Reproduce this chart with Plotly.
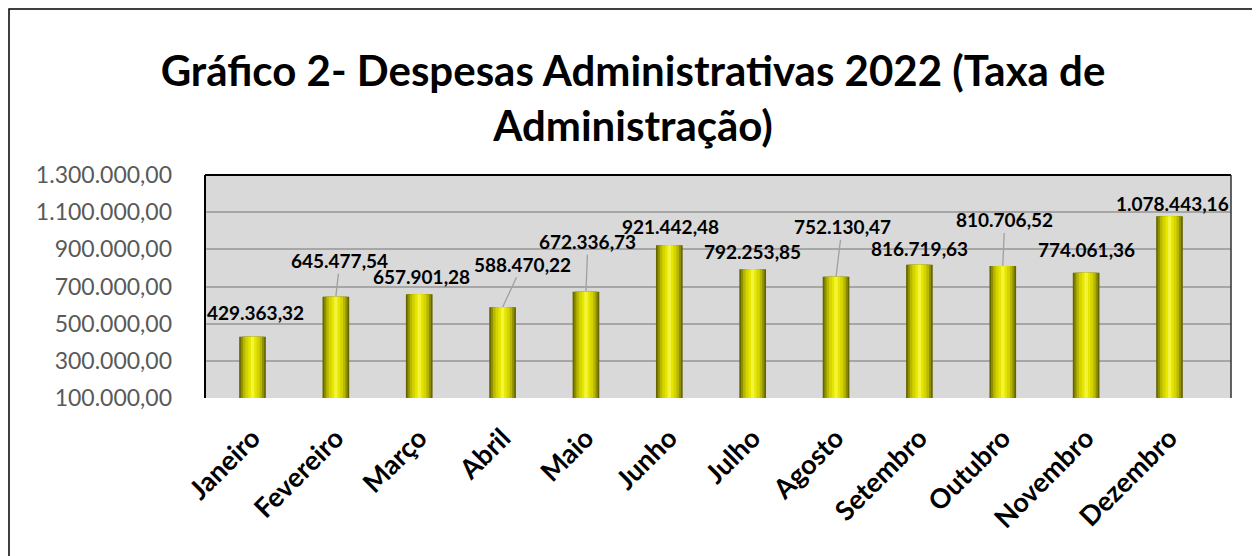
import plotly.graph_objects as go

months = ["Janeiro", "Fevereiro", "Março", "Abril", "Maio", "Junho", "Julho",
          "Agosto", "Setembro", "Outubro", "Novembro", "Dezembro"]
values = [429363.32, 645477.54, 657901.28, 588470.22, 672336.73, 921442.48,
          792253.85, 752130.47, 816719.63, 810706.52, 774061.36, 1078443.16]
y_ticks = [100000, 300000, 500000, 700000, 900000, 1100000, 1300000]

# label placement (pixel offsets of label centre from bar top) and leader line flag
label_dx = [3, 4, 2, 20, 2, 1, 0, 6, 0, 2, 0, 3]
label_dy = [-24, -36, -18, -43, -50, -19, -18, -50, -16, -46, -23, -13]
leader = [False, True, False, True, True, False, False, True, False, True, False, False]


def br(v):
    s = f"{v:,.2f}"
    return s.replace(",", "X").replace(".", ",").replace("X", ".")


W, H = 1260, 556
OFF = 8  # page body margin
ML, MT = 205 - OFF, 175 - OFF
MR = W - (1231 - OFF)
MB = H - (398 - OFF)
FONT = "Lato"

fig = go.Figure()
layers = [(0.32, "#666600"), (0.28, "#8f8f00"), (0.23, "#b8b800"), (0.17, "#d4d400"),
          (0.10, "#e6e600"), (0.04, "#f4f43a")]
for w, c in layers:
    fig.add_trace(go.Bar(x=months, y=values, width=w, marker=dict(color=c, line=dict(width=0)),
                         base=0, hoverinfo="skip", showlegend=False))

lab_font = dict(family=FONT, size=19, color="black", weight="bold")
ann = []
for m, v, dx, dy, ld in zip(months, values, label_dx, label_dy, leader):
    if ld:
        ann.append(dict(x=m, y=v, xref="x", yref="y", text=br(v), showarrow=True,
                        ax=dx, ay=dy, arrowhead=0, arrowwidth=1.3, arrowcolor="#a0a0a0",
                        standoff=0, font=lab_font))
    else:
        ann.append(dict(x=m, y=v, xref="x", yref="y", text=br(v), showarrow=False,
                        xshift=dx, yshift=-dy, font=lab_font))

pw = W - ML - MR
ph = H - MT - MB


def px(x):
    return (x - OFF - ML) / pw


def py(y):
    return 1 - (y - OFF - MT) / ph


shapes = [
    dict(type="rect", xref="paper", yref="paper", x0=px(9), x1=px(1255), y0=py(600), y1=py(9),
         line=dict(color="black", width=1.5), layer="above"),
    dict(type="line", xref="paper", yref="paper", x0=0, x1=1, y0=1, y1=1, line=dict(color="black", width=2)),
    dict(type="line", xref="paper", yref="paper", x0=0, x1=0, y0=0, y1=1, line=dict(color="black", width=2)),
    dict(type="line", xref="paper", yref="paper", x0=1, x1=1, y0=0, y1=1, line=dict(color="#303030", width=1.5)),
]

fig.update_layout(
    width=W, height=H,
    margin=dict(l=ML, r=MR, t=MT, b=MB),
    paper_bgcolor="white", plot_bgcolor="#d9d9d9",
    barmode="overlay", separators=",.",
    font=dict(family=FONT),
    title=dict(text="Gráfico 2- Despesas Administrativas 2022 (Taxa de<br>Administração)",
               x=(633 - OFF) / W, xref="container", xanchor="center",
               y=1 - (86 - OFF) / H, yref="container", yanchor="middle",
               font=dict(family=FONT, size=42, color="black", weight="bold")),
    xaxis=dict(type="category", tickangle=-45, showgrid=False, ticks="", ticklabelstandoff=18,
               tickfont=dict(family=FONT, size=27, color="black", weight="bold"), showline=False),
    yaxis=dict(range=[100000, 1300000], tickvals=y_ticks, tickformat=",.2f", showgrid=True,
               gridcolor="#a6a6a6", gridwidth=2, zeroline=False, ticklabelstandoff=32,
               tickfont=dict(family=FONT, size=23, color="#595959")),
    annotations=ann, shapes=shapes,
)
fig.write_html("out.html")
